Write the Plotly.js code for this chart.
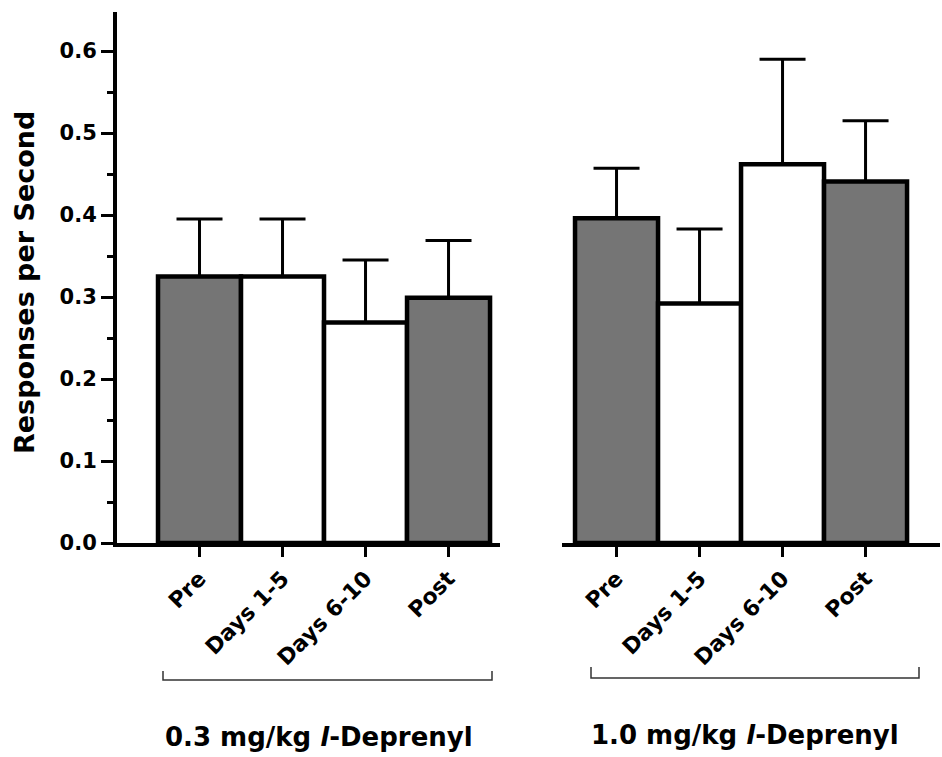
<!DOCTYPE html>
<html><head><meta charset="utf-8">
<script src="https://cdn.plot.ly/plotly-3.0.1.min.js"></script>
<style>html,body{margin:0;padding:0;background:#fff}</style>
</head><body><div id="chart" style="width:942px;height:757px"></div>
<script>
const categories = ['Pre', 'Days 1-5', 'Days 6-10', 'Post'];
const lowDoseMeans = [0.325, 0.325, 0.269, 0.299];
const lowDoseSEM = [0.070, 0.070, 0.076, 0.070];
const highDoseMeans = [0.396, 0.292, 0.462, 0.441];
const highDoseSEM = [0.061, 0.091, 0.128, 0.074];
const groupLabels = ['0.3 mg/kg <i>l</i>-Deprenyl', '1.0 mg/kg <i>l</i>-Deprenyl'];
const yTickVals = [0, 0.1, 0.2, 0.3, 0.4, 0.5, 0.6];
const yTitle = 'Responses per Second';

const barColors = ['#757575', '#ffffff', '#ffffff', '#757575'];
const FONT = 'DejaVu Sans, Arial, sans-serif';
const W = 942, H = 757;
const px = v => v / W, py = v => (H - v) / H;

function barTrace(means, sem, xa) {
  return {
    type: 'bar', x: categories, y: means, xaxis: xa, yaxis: 'y', width: 1,
    marker: {color: barColors, line: {color: '#000', width: 4.5}},
    error_y: {type: 'data', symmetric: false, array: sem, arrayminus: sem.map(() => 0),
      color: '#000', thickness: 3, width: 23},
    hoverinfo: 'none'
  };
}

const xCommon = {
  type: 'category', showline: true, linecolor: '#000', linewidth: 4,
  ticks: 'outside', ticklen: 10, tickwidth: 3, tickcolor: '#000',
  tickangle: -45, showgrid: false, zeroline: false, anchor: 'y',
  tickfont: {family: FONT, size: 22, color: '#000', weight: 'bold'}
};

const layout = {
  width: W, height: H, margin: {l: 0, r: 0, t: 0, b: 0},
  paper_bgcolor: '#fff', plot_bgcolor: 'rgba(0,0,0,0)', showlegend: false,
  bargap: 0,
  xaxis: Object.assign({}, xCommon, {domain: [px(117), px(500)], range: [-0.994, 3.62]}),
  xaxis2: Object.assign({}, xCommon, {domain: [px(562), px(940)], range: [-0.657, 3.897]}),
  yaxis: {
    domain: [py(543), py(12)], range: [0, 0.6476], showline: true, linecolor: '#000', linewidth: 4,
    ticks: 'outside', ticklen: 12, tickwidth: 3, tickcolor: '#000',
    tickvals: yTickVals, tickformat: '.1f', showgrid: false, zeroline: false,
    tickfont: {family: FONT, size: 21, color: '#000', weight: 'bold'},
    minor: {dtick: 0.05, ticks: 'outside', ticklen: 6, tickwidth: 3, tickcolor: '#000', showgrid: false}
  },
  shapes: [
    {type: 'path', xref: 'paper', yref: 'paper',
      path: `M${px(163)},${py(671)} L${px(163)},${py(680)} L${px(492)},${py(680)} L${px(492)},${py(671)}`,
      line: {color: '#333', width: 1.5}},
    {type: 'path', xref: 'paper', yref: 'paper',
      path: `M${px(591)},${py(667)} L${px(591)},${py(678)} L${px(919)},${py(678)} L${px(919)},${py(667)}`,
      line: {color: '#333', width: 1.5}}
  ],
  annotations: [
    {text: yTitle, xref: 'paper', yref: 'paper', x: px(24), y: py(283), textangle: -90,
      showarrow: false, xanchor: 'center', yanchor: 'middle',
      font: {family: FONT, size: 27, color: '#000', weight: 'bold'}},
    {text: groupLabels[0], xref: 'paper', yref: 'paper', x: px(319), y: py(737),
      showarrow: false, xanchor: 'center', yanchor: 'middle',
      font: {family: FONT, size: 26, color: '#000', weight: 'bold'}},
    {text: groupLabels[1], xref: 'paper', yref: 'paper', x: px(745), y: py(735),
      showarrow: false, xanchor: 'center', yanchor: 'middle',
      font: {family: FONT, size: 26, color: '#000', weight: 'bold'}}
  ]
};

Plotly.newPlot('chart', [barTrace(lowDoseMeans, lowDoseSEM, 'x'), barTrace(highDoseMeans, highDoseSEM, 'x2')],
  layout, {staticPlot: true, displayModeBar: false});
</script></body></html>
